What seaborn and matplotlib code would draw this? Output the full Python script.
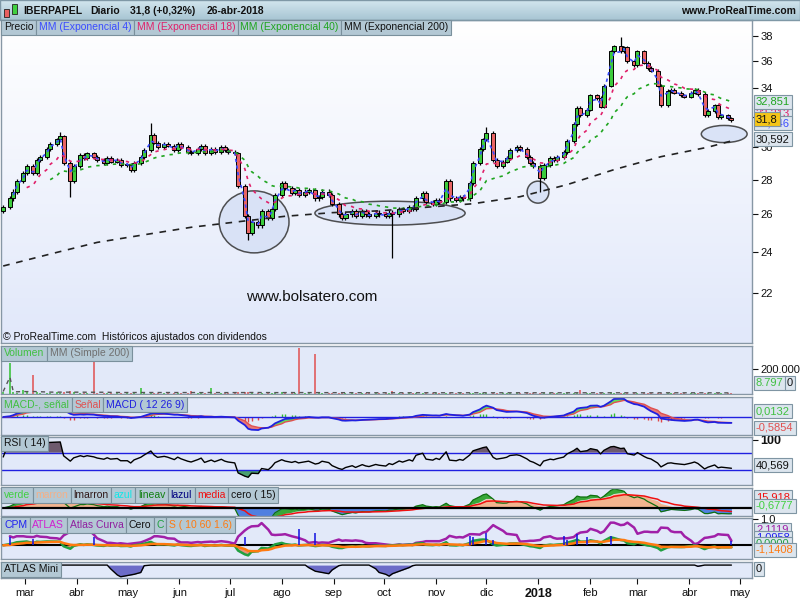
# %%
import numpy as np
import pandas as pd
import matplotlib
matplotlib.use('Agg')
import matplotlib.pyplot as plt
import matplotlib.dates as mdates
from matplotlib.patches import Ellipse, Rectangle
from matplotlib.colors import LinearSegmentedColormap
import seaborn as sns

# %%
# IBERPAPEL closes, one candle every 2 sessions
closes = [
    26.4, 26.9, 27.3, 27.9, 28.4, 28.8, 28.4, 29.2, 29.4, 29.9,
    30.2, 30.5, 30.7, 29.0, 27.9, 28.8, 29.5, 29.3, 29.6, 29.4,
    29.2, 29.0, 29.3, 29.1, 29.2, 28.9, 28.9, 28.6, 29.0, 29.4,
    29.8, 30.8, 30.3, 30.0, 30.2, 30.1, 29.8, 30.2, 30.0, 29.7,
    29.6, 29.9, 30.1, 29.6, 29.9, 29.7, 30.0, 29.8, 29.7, 29.6,
    27.6, 25.9, 25.0, 25.6, 25.4, 26.2, 25.8, 26.3, 27.1, 27.8,
    27.5, 27.2, 27.4, 27.1, 27.3, 27.4, 26.9, 27.0, 27.3, 27.1,
    26.6, 26.0, 25.8, 26.0, 26.2, 25.9, 26.2, 26.0, 25.9, 26.1,
    26.0, 25.9, 26.1, 26.0, 26.3, 26.2, 26.4, 26.3, 26.9, 27.2,
    26.7, 26.6, 26.8, 26.7, 27.9, 26.9, 26.8, 27.0, 26.9, 27.8,
    29.0, 29.9, 30.5, 30.9, 29.2, 28.8, 29.1, 29.3, 29.8, 30.0,
    29.9, 29.4, 29.0, 28.8, 28.1, 28.9, 29.3, 29.2, 29.4, 29.7,
    30.4, 31.5, 32.6, 32.1, 32.5, 33.5, 33.3, 32.7, 34.2, 36.8,
    37.2, 36.8, 37.1, 36.0, 35.7, 36.8, 35.9, 35.5, 35.3, 34.2,
    32.8, 33.8, 33.9, 33.7, 33.5, 33.4, 33.7, 33.9, 33.6, 32.1,
    32.4, 32.8, 32.0, 32.1, 31.9, 31.8,
]
first_open = 26.2
wick_lows = {14: 27.0, 52: 24.6, 83: 23.7, 114: 27.3}
wick_highs = {12: 31.0, 31: 31.6, 103: 31.3, 131: 37.9}

# volume in thousands of shares
volumes = [
    20, 250, 15, 12, 30, 18, 150, 14, 12, 10,
    12, 15, 10, 20, 25, 14, 10, 12, 11, 265,
    10, 9, 12, 8, 10, 11, 9, 10, 8, 45,
    14, 10, 9, 8, 12, 10, 9, 11, 8, 10,
    28, 9, 10, 12, 45, 10, 9, 8, 10, 12,
    20, 15, 14, 12, 10, 11, 9, 12, 10, 14,
    12, 10, 9, 370, 11, 10, 320, 9, 8, 10,
    9, 8, 10, 9, 8, 10, 9, 8, 9, 8,
    9, 10, 8, 22, 9, 8, 10, 9, 8, 12,
    10, 9, 8, 9, 10, 8, 9, 10, 8, 11,
    12, 10, 9, 11, 10, 9, 8, 10, 9, 8,
    9, 8, 10, 9, 12, 9, 8, 10, 9, 8,
    10, 9, 11, 30, 10, 12, 9, 10, 11, 14,
    12, 10, 9, 11, 10, 9, 10, 8, 9, 10,
    12, 9, 8, 10, 9, 8, 9, 10, 8, 9,
    8, 9, 10, 8, 9, 9,
]

# EMA 200 (needs history before the window)
ema200_idx = [0, 10, 20, 30, 40, 50, 60, 70, 80, 90, 100, 110, 120, 130, 140, 150, 155]
ema200_vals = [23.3, 23.9, 24.5, 24.9, 25.3, 25.6, 25.9, 26.1, 26.2, 26.4,
               26.6, 27.0, 27.7, 28.6, 29.4, 30.0, 30.4]

# CPM spikes and ATLAS Mini dips
cpm_spikes = {1: 0.3, 6: 0.25, 19: 0.3, 51: 0.3, 63: 0.6, 66: 0.45, 99: 0.35, 100: 0.3,
              103: 0.45, 104: 0.2, 119: 0.35, 120: 0.2, 122: 0.4, 124: 0.3, 129: 0.35, 155: 0.15}
mini_dips = {23: -0.3, 24: -0.8, 25: -0.95, 26: -0.85, 27: -0.8, 28: -0.75, 29: -0.6, 30: -0.05,
             65: -0.2, 66: -0.5, 67: -0.55, 68: -0.6, 69: -0.7, 70: -0.4, 71: -0.05,
             79: -0.3, 80: -0.6, 81: -0.75, 82: -0.9, 83: -0.7, 84: -0.5, 85: -0.4, 86: -0.2,
             87: -0.05, 148: -0.1}

month_labels = ['mar', 'abr', 'may', 'jun', 'jul', 'ago', 'sep', 'oct', 'nov', 'dic',
                '2018', 'feb', 'mar', 'abr', 'may']
price_ticks = [22, 24, 26, 28, 30, 32, 34, 36, 38]

# %%
sns.set_theme(style='white')
plt.rcParams['font.family'] = ['Liberation Sans', 'DejaVu Sans']

dates = pd.date_range('2017-02-16', periods=len(closes), freq='2B')
df = pd.DataFrame({'date': dates, 'close': closes, 'vol': volumes})
df['open'] = df['close'].shift(1).fillna(first_open)
df['high'] = df[['open', 'close']].max(axis=1) + 0.12
df['low'] = df[['open', 'close']].min(axis=1) - 0.12
for i, v in wick_lows.items():
    df.loc[i, 'low'] = v
for i, v in wick_highs.items():
    df.loc[i, 'high'] = v
xs = mdates.date2num(df['date'])
up = df['close'] >= df['open']

c = df['close']
df['ema4'] = c.ewm(span=2.1, adjust=False).mean()
df['ema18'] = c.ewm(span=9, adjust=False).mean()
df['ema40'] = c.ewm(span=20, adjust=False).mean()
macd = c.ewm(span=6, adjust=False).mean() - c.ewm(span=13, adjust=False).mean()
signal = macd.ewm(span=4.5, adjust=False).mean()
delta = c.diff()
gain = delta.clip(lower=0).ewm(alpha=1 / 9, adjust=False).mean()
loss = (-delta.clip(upper=0)).ewm(alpha=1 / 9, adjust=False).mean()
rsi = (100 - 100 / (1 + gain / loss)).fillna(60)

verde = (c.ewm(span=2, adjust=False).mean() - c.ewm(span=20, adjust=False).mean()) / c * 100
marron = verde.ewm(span=7, adjust=False).mean()
media = verde.ewm(span=12, adjust=False).mean()

atlas = c.diff().abs().rolling(6, min_periods=1).mean()
atlas = atlas / atlas.max() * 0.95 - 0.12
c_line = (c - c.ewm(span=10, adjust=False).mean()) / c * 3
s_line = c_line.ewm(span=6, adjust=False).mean()
mini = pd.Series(0.0, index=df.index)
for i, v in mini_dips.items():
    mini[i] = v

# %%
fig = plt.figure(figsize=(8, 6), dpi=100, facecolor='white')


def px_rect(x0, y0, x1, y1):
    return [x0 / 800, 1 - y1 / 600, (x1 - x0) / 800, (y1 - y0) / 600]


x_left = mdates.date2num(pd.Timestamp('2017-03-01')) - 24 / 1.678
x_right = mdates.date2num(pd.Timestamp('2017-03-01')) + 727 / 1.678
EDGE = '#8797a5'
BG = '#e2e9f9'
axes = []


def panel(rect, bg=BG):
    ax = fig.add_axes(px_rect(*rect))
    ax.set_facecolor(bg)
    for s in ax.spines.values():
        s.set_color(EDGE)
        s.set_linewidth(1)
    ax.yaxis.tick_right()
    ax.tick_params(axis='y', direction='out', length=4, width=0.8, labelsize=8, pad=2,
                   colors='#111', left=False, right=True)
    ax.tick_params(axis='x', bottom=False, labelbottom=False)
    axes.append(ax)
    return ax


def grad_axes(rect, c0, c1):
    g = fig.add_axes(px_rect(*rect), zorder=-1)
    cmap = LinearSegmentedColormap.from_list('g', [c0, c1])
    g.imshow(np.linspace(0, 1, 100).reshape(-1, 1), cmap=cmap, aspect='auto', extent=(0, 1, 0, 1))
    g.axis('off')
    return g


# title bar
grad_axes((0, 0, 800, 20), '#d3e6ee', '#a7c5d3')
fig.add_artist(Rectangle((0, 1 - 20 / 600), 1, 20 / 600, transform=fig.transFigure,
                         fc='none', ec='#7f98a6', lw=1))
fig.add_artist(Rectangle((4 / 800, 1 - 17 / 600), 5 / 800, 8 / 600, transform=fig.transFigure,
                         fc='#e86060', ec='#222', lw=0.6))
fig.add_artist(Rectangle((12 / 800, 1 - 14 / 600), 5 / 800, 10 / 600, transform=fig.transFigure,
                         fc='#40d040', ec='#222', lw=0.6))
for xt, txt in [(23, 'IBERPAPEL'), (90, 'Diario'), (130, '31,8 (+0,32%)'), (207, '26-abr-2018')]:
    fig.text(xt / 800, 1 - 10.5 / 600, txt, fontsize=7.5, fontweight='bold', va='center', color='#111')
fig.text(796 / 800, 1 - 10.5 / 600, 'www.ProRealTime.com', fontsize=7.5, fontweight='bold',
         ha='right', va='center', color='#111')

# %%
# price panel
grad_axes((1, 20, 752, 343), '#ffffff', '#e1e8fa')
ax = panel((1, 20, 752, 343))
ax.patch.set_visible(False)
ax.set_yscale('log')
ax.vlines(xs, df['low'], df['high'], color='black', lw=0.9, zorder=3)
body = np.maximum((df['close'] - df['open']).abs(), 0.04)
ax.bar(xs, body, bottom=df[['open', 'close']].min(axis=1), width=2.4,
       color=np.where(up, '#3ccc3c', '#e86464'), edgecolor='black', lw=0.7, zorder=4)

sns.lineplot(x=df['date'][2:], y=df['ema4'][2:], ax=ax, color='#3a4cff', lw=1.2,
             linestyle=(0, (2, 2)), zorder=5)
sns.lineplot(x=df['date'][5:], y=df['ema18'][5:], ax=ax, color='#e0206a', lw=1.2,
             linestyle=(0, (2, 3)), zorder=5)
sns.lineplot(x=df['date'][10:], y=df['ema40'][10:], ax=ax, color='#1fa51f', lw=1.2,
             linestyle=(0, (2, 3)), zorder=5)
sns.lineplot(x=df['date'][ema200_idx], y=ema200_vals, ax=ax, color='#222222', lw=1.2,
             linestyle=(0, (4, 4)), zorder=5)

for cx, cy, w, h in [(0.337, 0.375, 0.093, 0.192), (0.518, 0.402, 0.200, 0.074),
                     (0.715, 0.467, 0.029, 0.068), (0.963, 0.647, 0.061, 0.053)]:
    ax.add_patch(Ellipse((cx, cy), w, h, transform=ax.transAxes, fc='#d6e0f6', ec='#333',
                         lw=1.1, alpha=0.85, zorder=2))

ax.text(0.414, 0.142, 'www.bolsatero.com', transform=ax.transAxes, fontsize=11,
        ha='center', va='center', color='#111')
ax.text(0.002, 0.019, '© ProRealTime.com  Históricos ajustados con dividendos',
        transform=ax.transAxes, fontsize=7.5, va='center', color='#111')
ax.set_ylim(19.78, 39.32)
ax.set_yticks(price_ticks)
ax.set_yticklabels([str(t) for t in price_ticks])
ax.yaxis.set_minor_locator(matplotlib.ticker.NullLocator())

# volume panel
ax = panel((1, 346, 752, 394))
ax.vlines(xs, 0, df['vol'], color=np.where(up, '#30c030', '#e05050'), lw=1.1)
vol_ma = df['vol'].rolling(100, min_periods=1).median()
sns.lineplot(x=df['date'], y=vol_ma, ax=ax, color='#555555', lw=1, linestyle=(0, (3, 3)))
ax.set_ylim(0, 384)
ax.set_yticks([200])
ax.set_yticklabels(['200.000'])

# MACD panel
ax = panel((1, 397, 752, 435))
ax.fill_between(xs, macd, signal, where=macd >= signal, color='#5ee05e', interpolate=True, lw=0)
ax.fill_between(xs, macd, signal, where=macd < signal, color='#e87878', interpolate=True, lw=0)
hist = macd - signal
ax.vlines(xs, 0, hist, color=np.where(hist >= 0, '#30c030', '#e04848'), lw=1)
ax.axhline(0, color='#2020e0', lw=1)
sns.lineplot(x=df['date'], y=signal, ax=ax, color='#e05050', lw=1)
sns.lineplot(x=df['date'], y=macd, ax=ax, color='#2020e0', lw=1.3)
s = max(macd.max() / 0.48, -macd.min() / 0.44)
ax.set_ylim(-0.474 * s, 0.526 * s)
ax.set_yticks([])

# RSI panel
ax = panel((1, 437, 752, 485))
ax.fill_between(xs, rsi, 70, where=rsi > 70, color='#6e5a6e', interpolate=True, lw=0)
ax.fill_between(xs, rsi, 30, where=rsi < 30, color='#4aa070', interpolate=True, lw=0)
ax.axhline(70, color='#2020e0', lw=1)
ax.axhline(30, color='#2020e0', lw=1)
sns.lineplot(x=df['date'], y=rsi, ax=ax, color='black', lw=1)
ax.set_ylim(-4.7, 106.2)
ax.set_yticks([100])
ax.set_yticklabels(['100'], fontweight='bold', fontsize=9)

# custom oscillator panel
ax = panel((1, 488, 752, 516))
ax.fill_between(xs, 0, marron.clip(lower=0), color='#f2b48e', lw=0)
ax.fill_between(xs, marron, verde, where=verde > marron, color='#38a838', interpolate=True, lw=0)
ax.fill_between(xs, 0, verde.clip(upper=0), color='#5080e0', lw=0)
sns.lineplot(x=df['date'], y=verde, ax=ax, color='#107010', lw=0.9)
sns.lineplot(x=df['date'], y=media, ax=ax, color='#f01010', lw=1.1)
ax.axhline(0, color='black', lw=1.6)
ax.set_ylim(-5, 12.5)
ax.set_yticks([])

# CPM / ATLAS panel
ax = panel((1, 518, 752, 559))
ax.vlines(xs, 0, atlas.clip(upper=0), color='#a020b0', lw=0.8)
ax.fill_between(xs, c_line, s_line, where=c_line >= s_line, color='#3cc060', interpolate=True, lw=0)
ax.fill_between(xs, c_line, s_line, where=c_line < s_line, color='#e8907a', interpolate=True, lw=0)
ax.axhline(0, color='black', lw=1.5)
sns.lineplot(x=df['date'], y=atlas, ax=ax, color='#a020a8', lw=1.8)
sns.lineplot(x=df['date'], y=c_line, ax=ax, color='#20a040', lw=1.8)
sns.lineplot(x=df['date'], y=s_line, ax=ax, color='#ff7a10', lw=1.8)
ax.vlines(xs[list(cpm_spikes)], 0, list(cpm_spikes.values()), color='#1010e0', lw=1.1)
ax.set_ylim(-0.5, 1.0)
ax.set_yticks([0.97])
ax.set_yticklabels(['1,0'])

# ATLAS Mini panel
ax = panel((1, 562, 752, 578))
ax.fill_between(xs, mini, 0, color='#6c6cc8', lw=0)
sns.lineplot(x=df['date'], y=mini, ax=ax, color='black', lw=1)
ax.set_ylim(-1.05, 0.25)
ax.set_yticks([])
month_ticks = mdates.date2num(pd.date_range('2017-03-01', periods=len(month_labels), freq='MS'))
ax.set_xticks(month_ticks)
ax.set_xticklabels(month_labels)
ax.tick_params(axis='x', bottom=True, labelbottom=True, direction='out', length=4, width=0.8,
               labelsize=8, pad=3, colors='#111')
for lab in ax.get_xticklabels():
    if lab.get_text() == '2018':
        lab.set_fontweight('bold')
        lab.set_fontsize(9)

for a in axes:
    a.set_xlim(x_left, x_right)
    a.set_xlabel('')
    a.set_ylabel('')

# %%
# header boxes and right-hand value boxes
renderer = fig.canvas.get_renderer()
BOX = dict(boxstyle='square,pad=0.25', fc='#b3c8d4', ec='#7a909c', lw=0.8)


def header(y_px, items, fs=7.5):
    pad = 0.25 * fs * 100 / 72
    x = 1.5 + pad
    for txt, col in items:
        t = fig.text(x / 800, 1 - y_px / 600, txt, color=col, fontsize=fs, ha='left',
                     va='center', bbox=BOX, zorder=6)
        x += t.get_window_extent(renderer=renderer).width + 2 * pad


header(27.5, [('Precio', '#111'), ('MM (Exponencial 4)', '#3a4cff'),
              ('MM (Exponencial 18)', '#e0206a'), ('MM (Exponencial 40)', '#1fa51f'),
              ('MM (Exponencial 200)', '#111')])
header(353.5, [('Volumen', '#40c040'), ('MM (Simple 200)', '#707070')])
header(404.5, [('MACD-, señal', '#40c040'), ('Señal', '#e05050'), ('MACD ( 12 26 9)', '#2020e0')])
header(443.5, [('RSI ( 14)', '#111')])
header(495, [('verde', '#40d040'), ('marron', '#f4b088'), ('lmarron', '#301818'),
             ('azul', '#10e8e8'), ('lineav', '#108010'), ('lazul', '#000080'),
             ('media', '#f01010'), ('cero ( 15)', '#111')])
header(525, [('CPM', '#2020f0'), ('ATLAS', '#d020d0'), ('Atlas Curva', '#9020a0'),
             ('Cero', '#111'), ('C', '#20a040'), ('S ( 10 60 1.6)', '#ff7a10')])
header(569.5, [('ATLAS Mini', '#111')])

VBOX = dict(boxstyle='square,pad=0.2', fc='#dce5ee', ec='#7f95a3', lw=0.8)


def vbox(y_px, txt, col, x_px=756, fc=None):
    b = dict(VBOX)
    if fc:
        b['fc'] = fc
    fig.text(x_px / 800, 1 - y_px / 600, txt, color=col, fontsize=8, ha='left', va='center',
             bbox=b, zorder=7)


vbox(113, '32,213', '#e0206a')
vbox(123, '31,946', '#3a4cff')
vbox(102, '32,851', '#1fa51f')
vbox(139, '30,592', '#111')
vbox(119, '31,8', '#111', fc='#f5c518')
vbox(383, '8.797', '#40c040')
vbox(383, '0', '#111', x_px=787)
vbox(411, '0,0132', '#40c040')
vbox(428, '-0,5854', '#e05050')
vbox(465, '40,569', '#111')
vbox(497, '15,918', '#f01010')
vbox(506, '-0,6777', '#40d040')
vbox(530, '2,1119', '#a020a8')
vbox(538, '1,0958', '#2020f0')
vbox(544, '0,0000', '#20a040')
vbox(550, '-1,1408', '#ff7a10')
vbox(569, '0', '#111')

fig.savefig('out.png', dpi=100, facecolor='white')
